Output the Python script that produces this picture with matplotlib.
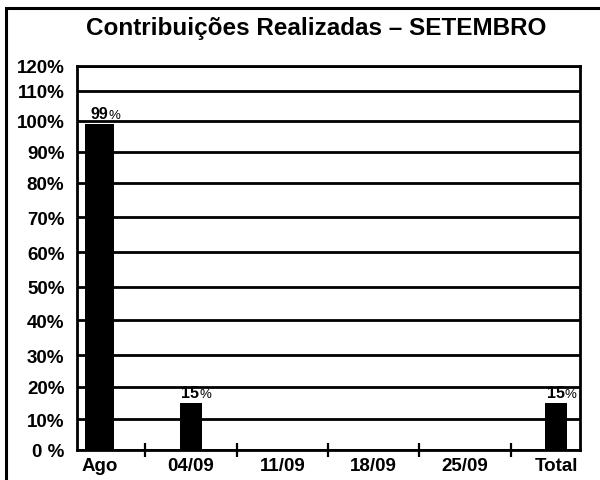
import numpy as np
import matplotlib
matplotlib.use("Agg")
import matplotlib.pyplot as plt
from matplotlib.patches import Rectangle

# valores
categorias = ["Ago", "04/09", "11/09", "18/09", "25/09", "Total"]
valores = [99, 15, 0, 0, 0, 15]
rotulos = ["99", "15", None, None, None, "15"]
y_ticks = [0, 10, 20, 30, 40, 50, 60, 70, 80, 90, 100, 110, 120]
y_labels = ["0 %", "10%", "20%", "30%", "40%", "50%", "60%", "70%",
            "80%", "90%", "100%", "110%", "120%"]

# o eixo y do original não é linear: altura (px) de cada linha de grade
alturas_px = [0, 30.7, 63.2, 94.4, 129.7, 163.2, 197.7, 232.4, 266.9, 297.9, 329.0, 359.0, 383.9]


def fwd(v):
    return np.interp(v, y_ticks, alturas_px)


def inv(h):
    return np.interp(h, alturas_px, y_ticks)


plt.rcParams['font.family'] = ['Liberation Sans', 'DejaVu Sans']

fig = plt.figure(figsize=(6, 4.81), dpi=100)
ax = fig.add_axes([0.1283, 0.063, 0.8383, 0.798])
ax.set_yscale('function', functions=(fwd, inv))

x = np.arange(len(categorias))
larguras = [0.32, 0.24, 0.24, 0.24, 0.24, 0.24]
ax.bar(x, valores, width=larguras, color='black', zorder=3)

ax.set_xlim(-0.25, 5.26)
ax.set_ylim(0, 120)
ax.set_yticks(y_ticks)
ax.set_yticklabels(y_labels, fontsize=13.5, fontweight='bold')
ax.set_xticks(x)
ax.set_xticklabels(categorias, fontsize=13.5, fontweight='bold')
ax.set_xticks(x[:-1] + 0.5, minor=True)
ax.tick_params(axis='x', which='major', length=0, pad=5.5)
ax.tick_params(axis='x', which='minor', direction='inout', length=9.4, width=1.6)
ax.tick_params(axis='y', length=0, pad=9)
ax.yaxis.grid(True, color='black', linewidth=2.0)
ax.set_axisbelow(True)
for s in ax.spines.values():
    s.set_linewidth(2)

# rótulos dos valores: número em negrito, "%" menor
for xi, v, r in zip(x, valores, rotulos):
    if r is None:
        continue
    t = ax.annotate(r, xy=(xi, v), xytext=(6, 2), textcoords='offset points',
                    ha='right', va='bottom', fontsize=11.5, fontweight='bold', zorder=4)
    ax.annotate('%', xy=(1, 0), xycoords=t, ha='left', va='bottom',
                fontsize=9.5, zorder=4)

fig.text(0.5275, 0.94, "Contribuições Realizadas – SETEMBRO",
         ha='center', va='center', fontsize=17.5, fontweight='bold')

# moldura externa (cortada à direita e embaixo)
fig.patches.append(Rectangle((5.5 / 600, -0.1), 1.2, 1.0823, transform=fig.transFigure,
                             fill=False, edgecolor='black', linewidth=2.2))

fig.savefig("out.png", dpi=100)
